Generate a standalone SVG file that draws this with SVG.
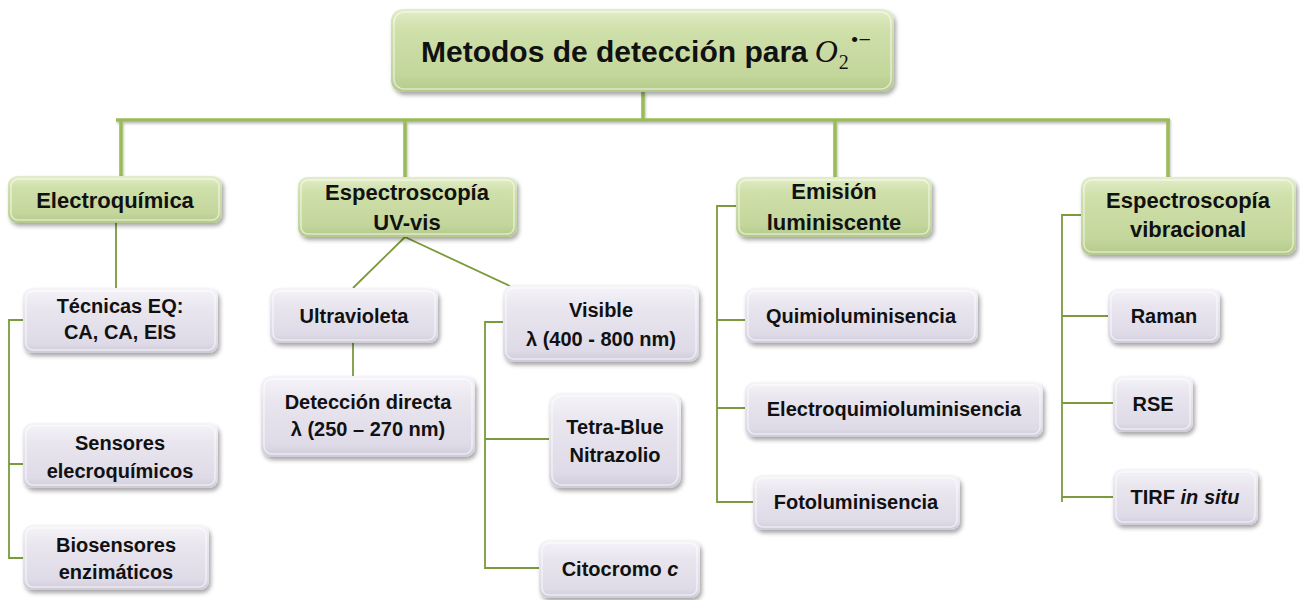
<svg xmlns="http://www.w3.org/2000/svg" width="1300" height="600" viewBox="0 0 1300 600">
<defs>
<linearGradient id="gGreen" x1="0" y1="0" x2="0" y2="1">
<stop offset="0" stop-color="#e3edc8"/>
<stop offset="0.25" stop-color="#cfe0aa"/>
<stop offset="0.8" stop-color="#c3d69b"/>
<stop offset="1" stop-color="#b3c989"/>
</linearGradient>
<linearGradient id="gLav" x1="0" y1="0" x2="0" y2="1">
<stop offset="0" stop-color="#f6f4f9"/>
<stop offset="0.3" stop-color="#e9e6ef"/>
<stop offset="0.85" stop-color="#dedae7"/>
<stop offset="1" stop-color="#cfcad9"/>
</linearGradient>
<filter id="sh" x="-10%" y="-20%" width="125%" height="150%">
<feDropShadow dx="2" dy="3" stdDeviation="2" flood-color="#000" flood-opacity="0.35"/>
</filter>
<filter id="lsh" x="-5%" y="-50%" width="110%" height="300%">
<feDropShadow dx="1" dy="2" stdDeviation="1.2" flood-color="#000" flood-opacity="0.25"/>
</filter>
</defs>
<style>
.g{fill:url(#gGreen);filter:url(#sh)}
.l{fill:url(#gLav);filter:url(#sh)}
.hi{fill:none;stroke:#ffffff;stroke-opacity:0.55;stroke-width:1.5}
.t{font-family:"Liberation Sans",Arial,sans-serif;font-weight:bold;fill:#111;text-anchor:middle}
.t1{font-size:22px}
.t2{font-size:20px}
.m{font-family:"Liberation Serif","Times New Roman",serif;font-weight:normal}
.main{fill:none;stroke:#9bbb59;stroke-width:3.5;filter:url(#lsh)}
.sub{fill:none;stroke:#7a9a3c;stroke-width:1.8}
</style>
<rect width="1300" height="600" fill="#ffffff"/>
<g id="connectors">
<path class="main" d="M643,92 V120 M116,120 H1170 M121,120 V177 M405,120 V177 M835,120 V177 M1168,120 V177"/>
<path class="sub" d="M116,223 V288 M23,320 H9 V558 H23 M9,464 H23"/>
<path class="sub" d="M405,237 L353,288 M405,237 L512,287 M353,343 V376"/>
<path class="sub" d="M503,322 H485 V568 H539 M485,439 H549"/>
<path class="sub" d="M736,206 H717 V502 H753 M717,320 H745 M717,408 H745"/>
<path class="sub" d="M1081,215 H1062 V502 M1062,316 H1108 M1062,403 H1113 M1062,497 H1113"/>
</g>
<g id="root">
<rect class="g" x="391" y="9" width="503" height="83" rx="12"/>
<rect class="hi" x="394" y="12" width="497" height="77" rx="10"/>
<text class="t" x="421" y="62" style="font-size:30px;text-anchor:start">Metodos de detección para<tspan class="m" dx="7" font-style="italic" font-size="32">O</tspan><tspan class="m" dx="1" dy="7" font-size="20">2</tspan><tspan class="m" dx="2" dy="-22" font-size="22">•−</tspan></text>
</g>
<g id="electroquimica">
<rect class="g" x="8" y="176" width="214" height="47" rx="9"/>
<rect class="hi" x="11" y="179" width="208" height="41" rx="7"/>
<text class="t t1" x="115" y="208">Electroquímica</text>
</g>
<g id="uvvis">
<rect class="g" x="298" y="177" width="219" height="60" rx="9"/>
<rect class="hi" x="301" y="180" width="213" height="54" rx="7"/>
<text class="t t1" x="407" y="200">Espectroscopía</text>
<text class="t t1" x="407" y="230">UV-vis</text>
</g>
<g id="emision">
<rect class="g" x="736" y="177" width="196" height="60" rx="9"/>
<rect class="hi" x="739" y="180" width="190" height="54" rx="7"/>
<text class="t t1" x="834" y="199">Emisión</text>
<text class="t t1" x="834" y="230">luminiscente</text>
</g>
<g id="vibracional">
<rect class="g" x="1081" y="177" width="215" height="78" rx="10"/>
<rect class="hi" x="1084" y="180" width="209" height="72" rx="8"/>
<text class="t t1" x="1188" y="208">Espectroscopía</text>
<text class="t t1" x="1188" y="237">vibracional</text>
</g>
<g id="tecnicas">
<rect class="l" x="23" y="288" width="195" height="65" rx="9"/>
<rect class="hi" x="26" y="291" width="189" height="59" rx="7"/>
<text class="t t2" x="120" y="313">Técnicas EQ:</text>
<text class="t t2" x="120" y="339">CA, CA, EIS</text>
</g>
<g id="sensores">
<rect class="l" x="23" y="423" width="195" height="65" rx="9"/>
<rect class="hi" x="26" y="426" width="189" height="59" rx="7"/>
<text class="t t2" x="120" y="450">Sensores</text>
<text class="t t2" x="120" y="478">elecroquímicos</text>
</g>
<g id="biosensores">
<rect class="l" x="23" y="525" width="186" height="65" rx="9"/>
<rect class="hi" x="26" y="528" width="180" height="59" rx="7"/>
<text class="t t2" x="116" y="552">Biosensores</text>
<text class="t t2" x="116" y="579">enzimáticos</text>
</g>
<g id="ultravioleta">
<rect class="l" x="270" y="288" width="168" height="55" rx="9"/>
<rect class="hi" x="273" y="291" width="162" height="49" rx="7"/>
<text class="t t2" x="354" y="323">Ultravioleta</text>
</g>
<g id="deteccion">
<rect class="l" x="261" y="376" width="214" height="81" rx="10"/>
<rect class="hi" x="264" y="379" width="208" height="75" rx="8"/>
<text class="t t2" x="368" y="409">Detección directa</text>
<text class="t t2" x="368" y="436">λ (250 – 270 nm)</text>
</g>
<g id="visible">
<rect class="l" x="503" y="285" width="196" height="77" rx="10"/>
<rect class="hi" x="506" y="288" width="190" height="71" rx="8"/>
<text class="t t2" x="601" y="317">Visible</text>
<text class="t t2" x="601" y="346">λ (400 - 800 nm)</text>
</g>
<g id="tetrablue">
<rect class="l" x="549" y="393" width="132" height="95" rx="12"/>
<rect class="hi" x="552" y="396" width="126" height="89" rx="10"/>
<text class="t t2" x="615" y="434">Tetra-Blue</text>
<text class="t t2" x="615" y="462">Nitrazolio</text>
</g>
<g id="citocromo">
<rect class="l" x="539" y="540" width="161" height="58" rx="9"/>
<rect class="hi" x="542" y="543" width="155" height="52" rx="7"/>
<text class="t t2" x="620" y="576">Citocromo <tspan font-style="italic">c</tspan></text>
</g>
<g id="quimio">
<rect class="l" x="745" y="288" width="233" height="55" rx="9"/>
<rect class="hi" x="748" y="291" width="227" height="49" rx="7"/>
<text class="t t2" x="861" y="323">Quimioluminisencia</text>
</g>
<g id="electroquimio">
<rect class="l" x="745" y="382" width="298" height="55" rx="9"/>
<rect class="hi" x="748" y="385" width="292" height="49" rx="7"/>
<text class="t t2" x="894" y="416">Electroquimioluminisencia</text>
</g>
<g id="foto">
<rect class="l" x="753" y="475" width="207" height="55" rx="9"/>
<rect class="hi" x="756" y="478" width="201" height="49" rx="7"/>
<text class="t t2" x="856" y="509">Fotoluminisencia</text>
</g>
<g id="raman">
<rect class="l" x="1108" y="289" width="112" height="54" rx="9"/>
<rect class="hi" x="1111" y="292" width="106" height="48" rx="7"/>
<text class="t t2" x="1164" y="323">Raman</text>
</g>
<g id="rse">
<rect class="l" x="1113" y="376" width="80" height="56" rx="9"/>
<rect class="hi" x="1116" y="379" width="74" height="50" rx="7"/>
<text class="t t2" x="1153" y="411">RSE</text>
</g>
<g id="tirf">
<rect class="l" x="1113" y="469" width="145" height="56" rx="9"/>
<rect class="hi" x="1116" y="472" width="139" height="50" rx="7"/>
<text class="t t2" x="1185" y="504">TIRF <tspan font-style="italic">in situ</tspan></text>
</g>
</svg>
